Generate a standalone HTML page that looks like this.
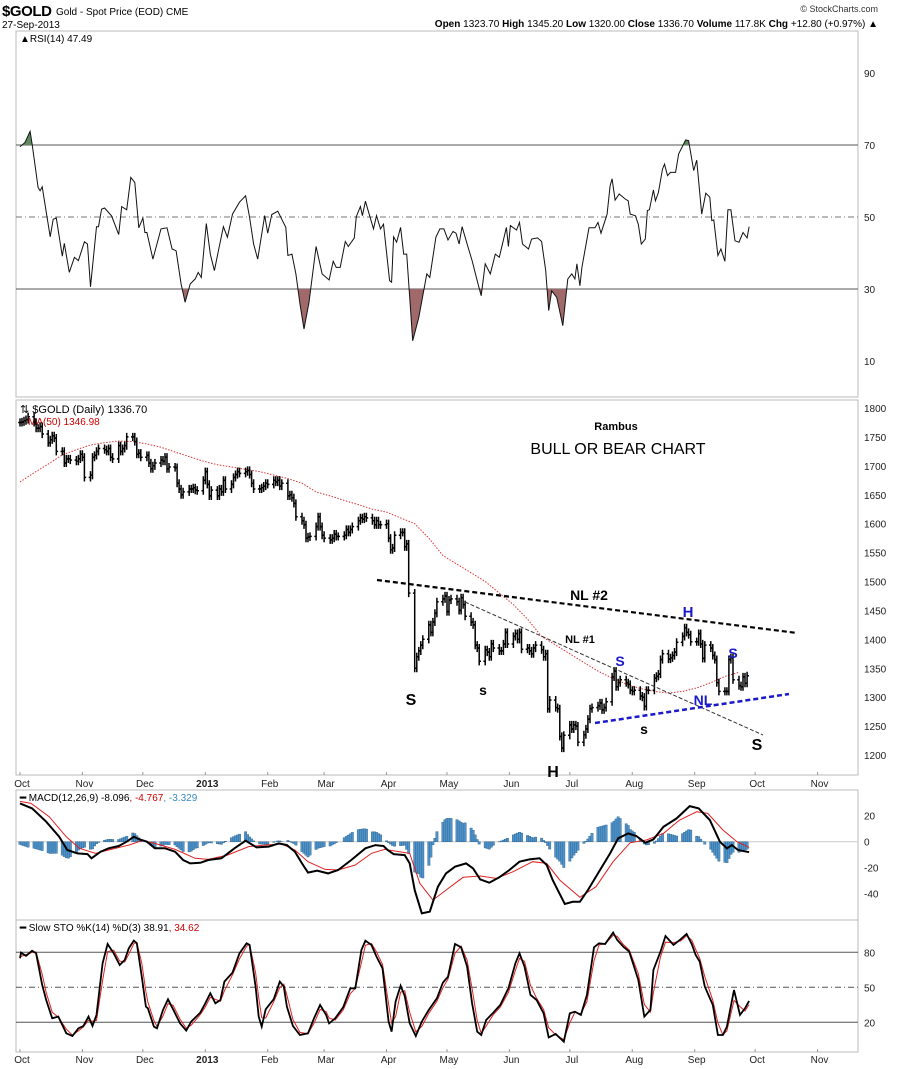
<!DOCTYPE html>
<html><head><meta charset="utf-8"><style>
body{margin:0;background:#fff;}
svg{display:block;font-family:"Liberation Sans",sans-serif;}
</style></head><body>
<svg id="c" width="900" height="1069" viewBox="0 0 900 1069">
<rect width="900" height="1069" fill="#fff"/>
<g>
<text x="2" y="16" font-size="15" font-weight="bold" textLength="50">$GOLD</text>
<text x="56" y="15" font-size="10">Gold - Spot Price (EOD) CME</text>
<text x="2" y="28" font-size="10">27-Sep-2013</text>
<text x="878" y="12" font-size="9" text-anchor="end" fill="#333">© StockCharts.com</text>
<text x="878" y="27" font-size="10" text-anchor="end"><tspan font-weight="bold">Open</tspan> 1323.70 <tspan font-weight="bold">High</tspan> 1345.20 <tspan font-weight="bold">Low</tspan> 1320.00 <tspan font-weight="bold">Close</tspan> 1336.70 <tspan font-weight="bold">Volume</tspan> 117.8K <tspan font-weight="bold">Chg</tspan> +12.80 (+0.97%) ▲</text>
</g>
<g id="g"></g>
</svg>
<script>
// ---------- data ----------
const closes=[1775,1776,1778,1780,1785, 1775,1765,1765,1768,1755, 1740,1745,1752,1748,1725, 1725,1705,1712,1712,1710, 1708,1712,1720,1715,1680,
1684,1715,1718,1725,1730, 1728,1725,1730,1715,1712, 1735,1725,1730,1735,1750, 1750,1742,1720,1722,1715, 1718,1705,1695,1700,1705,
1710,1708,1715,1695,1698, 1697,1670,1660,1650,1655, 1660,1660,1662,1658,1657, 1675,1690,1668,1648,1658, 1648,1660,1655,1675,1660,
1668,1680,1685,1690,1687, 1690,1692,1685,1670,1660, 1660,1662,1665,1670,1668, 1675,1672,1675,1665,1670, 1648,1650,1645,1635,1612,
1605,1598,1575,1577,1578, 1595,1612,1595,1580,1575, 1572,1575,1582,1578,1578, 1580,1590,1585,1590,1595, 1605,1610,1608,1612,1610,
1605,1598,1605,1598,1598, 1600,1575,1555,1558,1580, 1585,1585,1560,1565,1480, 1350,1370,1380,1390,1400, 1425,1412,1430,1445,1465,
1470,1475,1448,1468,1470, 1465,1450,1472,1460,1440, 1430,1425,1390,1385,1362, 1382,1378,1370,1392,1385, 1380,1380,1392,1412,1392,
1405,1410,1400,1412,1383, 1385,1380,1375,1385,1390, 1382,1370,1375,1280,1295, 1282,1280,1232,1212,1234, 1252,1245,1252,1250,1222,
1235,1245,1262,1280,1282, 1285,1290,1278,1282,1292, 1335,1345,1318,1325,1330, 1325,1322,1312,1310,1312, 1302,1300,1284,1312,1312,
1333,1336,1340,1365,1375, 1366,1368,1372,1378,1395, 1405,1420,1412,1408,1396, 1396,1410,1392,1367,1390, 1385,1372,1365,1325,1310,
1310,1310,1365,1368,1330, 1320,1318,1335,1324,1337];
const maWeekly=[1672,1688,1703,1719,1728,1736,1740,1743,1742,1738,1732,1724,1716,1708,1702,1698,1694,1690,1684,1678,1670,1655,1648,1640,1633,1625,
1620,1610,1600,1575,1545,1530,1515,1500,1480,1460,1435,1405,1390,1375,1360,1345,1333,1323,1315,1310,1307,1310,1316,1325,1336,1343];
const rsiDays=[0,2.5,5,6,9,10,11,15,16.5,18,21,22,24.5,27,29,32,33.5,35,38,39,40.5,42,45.5,49,50.5,53,55,57,59,61,62,63,66,70,73,75.5,77.5,80,82,84.5,87,88.5,90,92.5,94.5,96.5,98.5,101,103,105.5,109,112,114,116,118,121.5,123,125,128,132,133,135,137,139,141,143.5,147,150,153.5,155.5,157,159,161.5,163,166,167,169,170,171.5,175.5,177,179,180.5,183.5,184.5,185.5,187,189,190.5,192,195,198,202,203.5,206.5,208.5,210.5,212.5,215,216.5,218,219.5,222,224.5,227,229,231,233.5,236,238,241.5,242.5,243.5,246.5,248,249.5,252.5,254,257,259,261,262.5,264,266.5,269.5,272,274,275.5,276.5,278,279,282.5,285.5,287,288.5,291.5,293,294,295.5,297.5,300.5,302,303,305.5,307,308.5,310.5,311.5,312.5,314.5,315.5,317,319,320,321.5,323,325.5,327,330.5,332,334.5,336,338.5,340.5,342.5,343.5,344.5,346.5,348,350,351.5,353,355,357,359,361,362];
const rsiVals=[69.5,70.7,73.8,70.3,58.2,57.3,58.4,44.5,49.4,49.7,39.1,42.7,34.6,38.8,37.9,43.1,42.5,30.6,47.3,47.3,52.2,52.5,50.3,45.1,52.9,52,61,59.6,47,49.7,45.7,45.7,38.3,46.7,47,41.1,40.6,31.4,26.3,31.4,32.8,34.6,33.2,48.2,39.7,35.1,40.6,47.3,44.4,50.8,54.1,55.9,49.9,42.5,38.3,50.4,45.5,50.7,51.6,47.1,39.3,39.7,34.2,26,18.9,26.3,41.8,34.2,32.5,37.7,36,36,43.2,41.8,44.2,50.1,52.9,50.4,54.4,46.7,50.4,46.7,48,32.3,31.9,44.5,43,47.1,39.7,39.7,15.6,22.1,34.2,33.2,44.4,46.7,46.7,43.6,46,45.5,42.5,47.3,42.5,37.9,32.3,28.1,37,34.2,39.7,38.8,47.1,41.8,47.6,46.4,48.5,42.5,41.1,43.9,44.2,43.2,35.1,24,29.5,27.7,19.8,32.8,34.2,32.8,37,30.9,36,47,47,48.5,45.5,50.8,58.7,60.6,54.7,56.4,55,54.5,50.8,50.4,48,42.5,43.9,51.8,52,57.5,54.5,56.8,63.3,64.7,61.5,62.4,62.4,67.5,71.4,71.2,62.9,65.8,50.8,56.6,55.5,49,49.2,39.3,41.1,37.7,52,52,43.4,43,45.7,44.2,47.3];
const macdDays=[0,6,13,19.5,23.5,28.5,33.5,35.5,40,44,49,53,56.5,59.5,63,67,72,77,81,84.5,89.5,93.5,100,106.5,112,117.5,123.5,128.5,132.5,136.5,140,143,147.5,153,158,164.5,171.5,176.5,180.5,182.5,185.5,191,193.5,196,199.5,203.5,207.5,211.5,216,221.5,225,228.5,233,238,243,248,253,258,261.5,264.5,270.5,274.5,278,282,288,293,297,302,306,310.5,314.5,319.5,326,332.5,337,342.5,347.5,351,353.5,356.5,362];
const macdVals=[29.5,25.6,15.4,3.8,-6.4,-9,-9.5,-12.8,-7.7,-5.1,-3.3,0,3.8,1.8,0,-5.1,-5.1,-7.7,-14.1,-16.7,-16.2,-14.1,-12.8,-5.1,0.8,-4.4,-3.8,-1.3,-2.6,-7.7,-16.7,-23.8,-22.3,-24.4,-21.8,-14.1,-5.1,-2.6,-3.3,-6.4,-9.5,-10.3,-16.7,-37.2,-55.1,-53.8,-34.6,-24.4,-19.2,-16.7,-20.5,-29,-31.5,-27.4,-21.8,-15.4,-13.6,-12.8,-17.9,-29.5,-47.9,-46.2,-46.2,-37.2,-21.8,-9,2.6,6.4,4.4,-0.8,1.8,11.5,17.9,27.4,25.6,16.7,0,-5.1,-2.6,-6.4,-8.1];
const sigDays=[0,5.5,14.5,23,29.5,37.5,44,54,60.5,67,77,87,93.5,103,113.5,121.5,130,136.5,143,151.5,158,166.5,174.5,181,188.5,193.5,198.5,205,211.5,220,228.5,236.5,245,254.5,261.5,268,278,286,294.5,303,311,319.5,327.5,336,341.5,349,356,362];
const sigVals=[31,29.5,19.2,3.8,-5.1,-9,-6.4,-2.6,0.8,-1.3,-5.9,-12.8,-13.6,-10.3,-3.8,-2.6,-1.8,-6.4,-15.4,-21.3,-21.8,-17.9,-9,-5.9,-7.7,-9,-32,-44.9,-37.2,-27.4,-26.4,-28.2,-23,-15.4,-16.7,-29.5,-42.8,-34.6,-15.4,-0.8,1.3,6.4,16.7,23,21.8,9,0,-4.4];
const stoDays=[0,0.5,3,6,8,11,13,16,19,23,26,29,31.5,34,36,38,41,43.5,46.5,49.5,52,54,56.5,58,60.5,62.5,63.5,66.5,68,71,73.5,76,79.5,82.5,85,89.5,92,94.5,97,99.5,101.5,105.5,109,112.5,114,117,118.5,120,122,126,129,131,132.5,135.5,139,143,146,149,152,153.5,156.5,160.5,164,166.5,169.5,171.5,174.5,177,180,183,184.5,186.5,189,191,193.5,196.5,199.5,203,207,210,212.5,216,219,222,224.5,227,229,231.5,235,238.5,242.5,246,248,250.5,253.5,256.5,260,262.5,266,270,273,275.5,278.5,281.5,285,287.5,290.5,294.5,296.5,299.5,302.5,307,310,313,314.5,318,320.5,324.5,328,331,333.5,335.5,337.5,340,344,346.5,349,351,354.5,357.5,360,362];
const stoVals=[74.9,79.7,76.9,81.4,79.1,52,39.1,23.4,24.9,10.6,8.3,14.9,16.9,24.9,16.9,26.3,70.6,87.1,79.1,69.1,73.4,83.4,90,87.7,59.1,33.4,32,16.3,14.9,30.6,39.7,31.1,19.1,12.9,20.6,28.3,36.3,44.9,36.3,39.1,54.9,62.6,79.1,87.7,86.3,50.6,24.9,16.3,31.1,40,54.9,50.6,33.4,16.9,9.1,10.6,23.4,34.9,26.3,19.1,23.4,32.9,49.1,49.1,82,90,86.3,76.3,66.3,20.6,12,37.7,51.4,42.6,19.1,8.3,20.6,30.6,40.6,54,59.1,87.1,84.3,67.7,36.3,12,9.1,22,28.3,34.9,49.1,70.6,79.1,67.7,43.4,39.1,27.7,7.1,10,3.4,27.7,29.1,26.3,43.4,84.3,87.7,87.1,96.9,90.6,84.9,80.6,56.3,24.9,30.6,64.9,80.6,94,86.3,91.1,95.7,87.1,77.7,72,50.6,34.9,9.1,9.1,16.3,47.7,26.3,32,38.3];
const monthLabels=["Oct","Nov","Dec","2013","Feb","Mar","Apr","May","Jun","Jul","Aug","Sep","Oct","Nov"];
const monthDays=[0,31,61,92,123,151,182,212,243,273,304,335,365,396];
const priceTicks=[1800,1750,1700,1650,1600,1550,1500,1450,1400,1350,1300,1250,1200];
const rsiTicks=[90,70,50,30,10];
const macdTicks=[20,0,-20,-40];
const stoTicks=[80,50,20];

// ---------- scales ----------
const L=16,R=858;
const xD=d=>20+d*2.014;
const yP=p=>755-(p-1200)*0.5783;
const yR=v=>397-3.6*v;
const yM=v=>841.7-1.3*v;
const yS=v=>1022.3-(v-20)*1.1667;
const NS="http://www.w3.org/2000/svg";
const G=document.getElementById('g');
function mk(tag,attrs,parent){const e=document.createElementNS(NS,tag);for(const k in attrs)e.setAttribute(k,attrs[k]);(parent||G).appendChild(e);return e;}
function interp(ds,vs,d){if(d<=ds[0])return vs[0];for(let i=1;i<ds.length;i++){if(d<=ds[i]){const t=(d-ds[i-1])/(ds[i]-ds[i-1]);return vs[i-1]+t*(vs[i]-vs[i-1]);}}return vs[vs.length-1];}
function pts(ds,vs,fy){return ds.map((d,i)=>xD(d).toFixed(1)+','+fy(vs[i]).toFixed(1)).join(' ');}

// panels
const panels=[[31,397,'rsi-panel'],[400,775,'price-panel'],[790,920,'macd-panel'],[920,1052,'sto-panel']];
panels.forEach(p=>{const r=mk('rect',{x:L,y:p[0],width:R-L,height:p[1]-p[0],fill:'none',stroke:'#bbb','stroke-width':1});

});

// month ticks & labels
function dateAxis(y,name){const g=mk('g',{});


monthLabels.forEach((m,i)=>{const x=xD(monthDays[i]);
const t=mk('text',{x:x+2,y:y,'font-size':10,'text-anchor':'middle','font-weight':m==='2013'?'bold':'normal',fill:'#222'},g);t.textContent=m;

});}
dateAxis(787,'date-axis-top');dateAxis(1063,'date-axis-bottom');
[[775],[1052]].forEach(a=>monthDays.forEach(d=>mk('line',{x1:xD(d),x2:xD(d),y1:a[0]-3,y2:a[0],stroke:'#999'})));

// axis labels
function yLabels(ticks,fy,name){const g=mk('g',{});


ticks.forEach(v=>{const t=mk('text',{x:864,y:fy(v)+4,'font-size':10,fill:'#222'},g);t.textContent=v;

});}
yLabels(rsiTicks,yR,'rsi-axis');yLabels(priceTicks,yP,'price-axis');yLabels(macdTicks,yM,'macd-axis');yLabels(stoTicks,yS,'sto-axis');

// ---------- RSI ----------
[[70,'#555','none'],[30,'#555','none'],[50,'#777','6,3,1,3']].forEach(l=>{const e=mk('line',{x1:L,x2:R,y1:yR(l[0]),y2:yR(l[0]),stroke:l[1],'stroke-width':1,'stroke-dasharray':l[2]});

});
const defs=mk('defs',{});
const c1=mk('clipPath',{id:'above70'},defs);mk('rect',{x:0,y:0,width:900,height:yR(70)},c1);
const c2=mk('clipPath',{id:'below30'},defs);mk('rect',{x:0,y:yR(30),width:900,height:120},c2);
const rp=pts(rsiDays,rsiVals,yR);
const x0=xD(rsiDays[0]),x1=xD(rsiDays[rsiDays.length-1]);
const f1=mk('polygon',{points:x0+','+yR(70)+' '+rp+' '+x1+','+yR(70),fill:'#5f8a5f','clip-path':'url(#above70)'});


const f2=mk('polygon',{points:x0+','+yR(30)+' '+rp+' '+x1+','+yR(30),fill:'#a06a6a','clip-path':'url(#below30)'});


const rl=mk('polyline',{points:rp,fill:'none',stroke:'#111','stroke-width':1});


const rt=mk('text',{x:20,y:42,'font-size':10});rt.textContent='▲RSI(14) 47.49';



// ---------- Price ----------
const days=closes.map((c,i)=>Math.floor(i/5)*7+(i%5));
const pl=mk('text',{x:20,y:413,'font-size':11});pl.textContent='⇅ $GOLD (Daily) 1336.70';


const ml=mk('text',{x:18,y:425,'font-size':10,fill:'#c00'});ml.textContent='···MA(50) 1346.98';


const ma=mk('polyline',{points:maWeekly.map((v,i)=>xD(i*7).toFixed(1)+','+yP(v).toFixed(1)).join(' '),fill:'none',stroke:'#d33','stroke-width':1,'stroke-dasharray':'1.5,1.5'});


const bars=mk('g',{});


closes.forEach((c,i)=>{const o=i>0?closes[i-1]:c;const x=xD(days[i]);
const hi=Math.max(o,c)+7,lo=Math.min(o,c)-7;
const b=mk('path',{d:`M${x.toFixed(1)},${yP(hi).toFixed(1)}V${yP(lo).toFixed(1)}M${(x-1.8).toFixed(1)},${yP(o).toFixed(1)}H${x.toFixed(1)}M${x.toFixed(1)},${yP(c).toFixed(1)}H${(x+1.8).toFixed(1)}`,stroke:'#000','stroke-width':1.5,fill:'none'},bars);

});

// annotations
function ln(a,b,c,d,col,w,da,name){const e=mk('line',{x1:a,y1:b,x2:c,y2:d,stroke:col,'stroke-width':w,'stroke-dasharray':da});

}
ln(377,580,797,633,'#000',2.2,'5,3','neckline-2');
ln(465,602,763,735,'#333',1,'4,2','neckline-1');
ln(595,723,789,694,'#1a1acc',2.5,'5,3','blue-neckline');
function tx(x,y,s,sz,col,bold,name){const e=mk('text',{x:x,y:y,'font-size':sz,fill:col,'font-weight':bold?'bold':'normal','text-anchor':'middle'});e.textContent=s;

}
tx(616,430,'Rambus',11,'#000',true,'author-label');
tx(618,454,'BULL OR BEAR CHART',16,'#000',false,'chart-title');
tx(589,600,'NL #2',14,'#000',true,'nl2-label');
tx(580,643,'NL #1',11,'#000',true,'nl1-label');
tx(411,705,'S',16,'#000',true,'left-shoulder-label');
tx(483,695,'s',14,'#000',true,'small-shoulder-label');
tx(553,777,'H',16,'#000',true,'head-label');
tx(620,666,'S',14,'#1a1acc',true,'blue-shoulder-left');
tx(644,734,'s',14,'#000',true,'small-shoulder-right');
tx(688,617,'H',15,'#1a1acc',true,'blue-head-label');
tx(733,658,'S',14,'#1a1acc',true,'blue-shoulder-right');
tx(703,705,'NL',14,'#1a1acc',true,'blue-nl-label');
tx(757,750,'S',16,'#000',true,'right-shoulder-label');

// ---------- MACD ----------
mk('line',{x1:L,x2:R,y1:yM(0),y2:yM(0),stroke:'#ccc'});
const hg=mk('g',{});


days.forEach(d=>{const h=interp(macdDays,macdVals,d)-interp(sigDays,sigVals,d);
const y0=yM(0),y1=yM(h*1.4);const r=mk('rect',{x:xD(d)-1.2,y:Math.min(y0,y1),width:2.4,height:Math.abs(y1-y0),fill:'#4f93c9',stroke:'#2a5f8c','stroke-width':0.4},hg);

});
const sl=mk('polyline',{points:pts(sigDays,sigVals,yM),fill:'none',stroke:'#e02020','stroke-width':1});


const mlin=mk('polyline',{points:pts(macdDays,macdVals,yM),fill:'none',stroke:'#000','stroke-width':2});


const mt=mk('text',{x:20,y:801,'font-size':10});
mt.innerHTML='<tspan font-weight="bold">━</tspan> MACD(12,26,9) -8.096<tspan fill="#c00">, -4.767</tspan><tspan fill="#3a8ac0">, -3.329</tspan>';



// ---------- STO ----------
[[80,'none'],[20,'none'],[50,'6,3,1,3']].forEach(l=>{const e=mk('line',{x1:L,x2:R,y1:yS(l[0]),y2:yS(l[0]),stroke:'#555','stroke-dasharray':l[1]});

});
const dV=stoDays.map(d=>(interp(stoDays,stoVals,d)+interp(stoDays,stoVals,d-1)+interp(stoDays,stoVals,d-2))/3);
const dl=mk('polyline',{points:pts(stoDays,dV,yS),fill:'none',stroke:'#e02020','stroke-width':1});


const kl=mk('polyline',{points:pts(stoDays,stoVals,yS),fill:'none',stroke:'#000','stroke-width':1.8});


const st=mk('text',{x:20,y:931,'font-size':10});
st.innerHTML='<tspan font-weight="bold">━</tspan> Slow STO %K(14) %D(3) 38.91<tspan fill="#c00">, 34.62</tspan>';


</script>
</body></html>
